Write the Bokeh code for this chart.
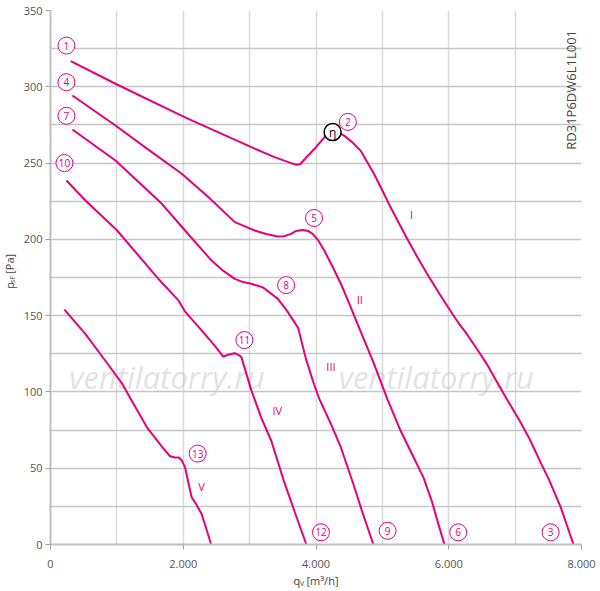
import math
from bokeh.plotting import figure
from bokeh.layouts import column, row
from bokeh.models import FixedTicker, Label, Range1d
from bokeh.core.properties import value
from bokeh.embed import file_html
from bokeh.resources import INLINE

# ---- data ----
c1_x = [305, 979, 2027, 3026, 3376, 3625, 3700, 3760, 3850, 4000, 4130, 4250, 4340, 4424, 4550, 4674, 4780, 4874,
        5000, 5124, 5250, 5374, 5520, 5673, 5850, 6022, 6150, 6272, 6420, 6572, 6720, 6872, 7071, 7220, 7371, 7515,
        7686, 7880]
c1_y = [316.8, 302, 280, 260.4, 253.9, 250, 248.9, 249.2, 253.5, 260.4, 267, 270.3, 270, 268, 263.5, 258, 250, 243,
        232, 221, 210.5, 200.4, 189, 177.4, 165, 153.4, 145, 138, 128.5, 118.4, 107, 95.5, 81, 69, 55, 42,
        24.5, 0]

c2_x = [330, 979, 1500, 1978, 2377, 2777, 2930, 3076, 3250, 3426, 3520, 3625, 3700, 3800, 3880, 3950, 4040, 4125,
        4250, 4375, 4500, 4624, 4750, 4874, 5074, 5273, 5450, 5618, 5742, 5840, 5935]
c2_y = [294.3, 274.6, 258, 243, 227.7, 211.3, 208.5, 205.8, 203.5, 201.9, 202, 203.6, 205.5, 206.2, 205.5, 203.6,
        199, 192.7, 182, 170.9, 158, 144.7, 131.5, 118.4, 95.5, 74.7, 59, 44, 28.8, 14, 0]

c3_x = [330, 979, 1678, 2027, 2427, 2600, 2777, 2900, 3026, 3200, 3426, 3550, 3625, 3730, 3850, 3955, 4050, 4225,
        4375, 4560, 4700, 4865]
c3_y = [272, 251.7, 223.3, 205.8, 186.1, 179.5, 174.1, 172, 170.9, 168.5, 161, 154, 149, 142, 121.5, 107, 95.5, 79,
        63.6, 40, 21, 0]

c4_x = [240, 527, 1004, 1648, 1928, 2022, 2322, 2480, 2602, 2690, 2777, 2840, 2876, 2950, 3026, 3176, 3326, 3513,
        3690, 3855]
c4_y = [238.6, 225.5, 205.8, 173, 160, 153, 138, 130, 123.2, 124.5, 125.4, 124, 122.8, 112, 101, 83, 68, 42,
        20, 0]

c5_x = [210, 524, 824, 1079, 1200, 1333, 1450, 1573, 1700, 1798, 1870, 1933, 1980, 2027, 2080, 2127, 2200, 2277,
        2350, 2420]
c5_y = [154, 138, 120.6, 105.5, 96, 86, 77, 70, 63, 58, 57, 57, 55, 50.6, 40, 31, 26, 20, 10, 0]

num_labels = ["1", "2", "3", "4", "5", "6", "7", "8", "9", "10", "11", "12", "13"]
num_x = [240, 4480, 7535, 240, 3970, 6142, 240, 3550, 5079, 210, 2921, 4075, 2217]
num_y = [327, 277, 8, 303, 214, 8, 281, 170, 9, 250, 134, 8, 59.6]

roman_labels = ["I", "II", "III", "IV", "V"]
roman_x = [5438, 4659, 4225, 3416, 2277]
roman_y = [216, 160.5, 116.7, 88, 38]

eta_x = [4250]
eta_y = [270.3]

x_ticks = [0, 2000, 4000, 6000, 8000]
x_tick_labels = ["0", "2.000", "4.000", "6.000", "8.000"]
y_ticks = [0, 50, 100, 150, 200, 250, 300, 350]
x_grid = [0, 1000, 2000, 3000, 4000, 5000, 6000, 7000, 8000]
y_grid = [0, 25, 50, 75, 100, 125, 150, 175, 200, 225, 250, 275, 300, 325, 350]

# axis title pieces (main text, subscript, unit)
x_title = ["q", "V", "[m³/h]"]
y_title = ["p", "sF", "[Pa]"]

model_name = "RD31P6DW6L1L001"
watermark = "ventilatorry.ru"
wm_x = [1753, 5813]
wm_y = [110, 110]

MAG = "#e5007d"
FONT = "Open Sans"
TXT = "#444444"

LEFT_W = 20
BOTTOM_H = 19
W, H = 600, 591
MAIN_H = H - BOTTOM_H

p = figure(width=W - LEFT_W, height=MAIN_H, output_backend="svg", toolbar_location=None,
           x_range=Range1d(0, 8000), y_range=Range1d(0, 350),
           min_border_left=27, min_border_right=19, min_border_top=10, min_border_bottom=28)
p.outline_line_color = None
p.background_fill_color = "white"

# grids
p.xgrid.ticker = FixedTicker(ticks=x_grid)
p.ygrid.ticker = FixedTicker(ticks=y_grid)
p.xgrid.grid_line_color = "#d9d9d9"
p.ygrid.grid_line_color = "#c6c6c6"
p.xgrid.grid_line_width = 1.5
p.ygrid.grid_line_width = 1.5

# axes
p.xaxis.ticker = FixedTicker(ticks=x_ticks)
p.xaxis.major_label_overrides = {t: l for t, l in zip(x_ticks, x_tick_labels)}
p.yaxis.ticker = FixedTicker(ticks=y_ticks)
for ax in (p.xaxis, p.yaxis):
    ax.axis_line_color = "#c0c0c0"
    ax.axis_line_width = 2
    ax.major_tick_line_color = "#a0a0a0"
    ax.major_tick_out = 5
    ax.major_tick_in = 0
    ax.minor_tick_line_color = None
    ax.major_label_text_font = FONT
    ax.major_label_text_font_size = "11px"
    ax.major_label_text_color = "#555555"
p.xaxis.major_label_standoff = 10
p.yaxis.major_label_standoff = 3

# watermark
p.text(x=wm_x, y=wm_y, text=[watermark, watermark], text_font=value("Open Sans"),
       text_font_style="italic", text_font_size="31px", text_color="#bdbdbd", text_alpha=0.45,
       text_align="center", text_baseline="middle")

# curves
for xs, ys in ((c1_x, c1_y), (c2_x, c2_y), (c3_x, c3_y), (c4_x, c4_y), (c5_x, c5_y)):
    p.line(xs, ys, line_color=MAG, line_width=2, line_join="round")

# numbered circle labels
p.scatter(num_x, num_y, size=17, marker="circle", fill_color="white", line_color=MAG, line_width=1)
p.text(x=num_x, y=num_y, text=num_labels, text_font=value(FONT), text_font_size="10px",
       text_color=MAG, text_align="center", text_baseline="middle")

# roman labels
p.text(x=roman_x, y=roman_y, text=roman_labels, text_font=value(FONT), text_font_size="11px",
       text_color=MAG, text_align="center", text_baseline="middle")

# eta marker
p.scatter(eta_x, eta_y, size=17, marker="circle", fill_color="white", line_color="black", line_width=1.5)
p.text(x=eta_x, y=eta_y, text=["η"], text_font=value(FONT), text_font_size="12px",
       text_color="black", text_align="center", text_baseline="middle")

# model name
p.add_layout(Label(x=7843, y=298, text=model_name, angle=math.pi / 2, text_font=FONT,
                   text_font_size="13px", text_color=TXT, text_align="center",
                   text_baseline="middle"))

# ---- left strip: y-axis title (pixel coordinates, y up from strip bottom) ----
ly = figure(width=LEFT_W, height=MAIN_H, output_backend="svg", toolbar_location=None,
            x_range=Range1d(0, LEFT_W), y_range=Range1d(0, MAIN_H),
            x_axis_type=None, y_axis_type=None, min_border=0)
ly.outline_line_color = None
ly.text(x=[9, 12, 9], y=[MAIN_H - 298, MAIN_H - 292, MAIN_H - 282], text=y_title,
        angle=math.pi / 2, text_font=value(FONT), text_font_size=["11px", "7px", "11px"],
        text_color=TXT, text_align="left", text_baseline="middle")

# ---- bottom strip: x-axis title ----
bx = figure(width=W, height=BOTTOM_H, output_backend="svg", toolbar_location=None,
            x_range=Range1d(0, W), y_range=Range1d(0, BOTTOM_H),
            x_axis_type=None, y_axis_type=None, min_border=0)
bx.outline_line_color = None
bx.text(x=[293, 299.5, 306], y=[H - 580, H - 583, H - 580], text=x_title,
        text_font=value(FONT), text_font_size=["11px", "7px", "11px"],
        text_color=TXT, text_align="left", text_baseline="middle")

layout = column(row(ly, p, spacing=0), bx, spacing=0)
open("out.html", "w").write(file_html(layout, INLINE))
